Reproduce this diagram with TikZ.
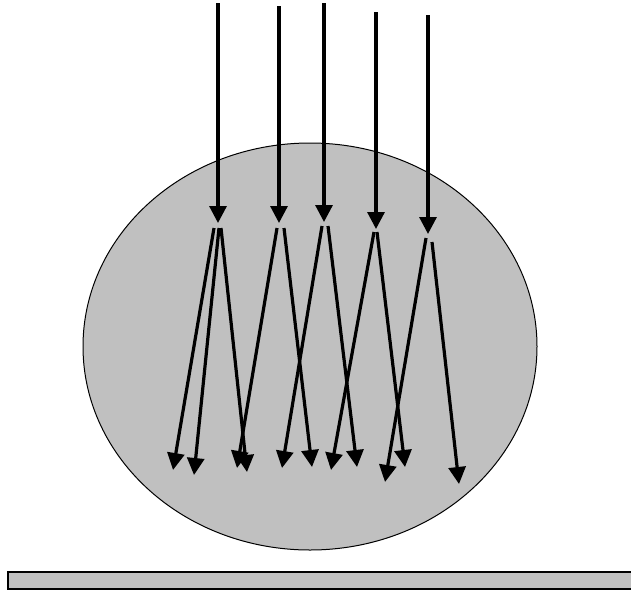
\documentclass[tikz,border=0pt]{standalone}
\usetikzlibrary{arrows.meta}
\definecolor{lens}{HTML}{C0C0C0}
\begin{document}
\begin{tikzpicture}[x=1pt,y=-1pt,
  ray/.style={line width=3.2pt,-{Triangle[length=17pt,width=17pt]}},
  body/.style={fill=lens,draw=black,line width=1pt}]
\useasboundingbox (0,0) rectangle (631,592);
% sphere and plate
\draw[body] (310,346.5) ellipse [x radius=227, y radius=203.5];
\draw[body,line width=1.5pt] (8,572) rectangle (640,589);
% incoming rays
\coordinate (t1) at (218,3);   \coordinate (h1) at (218,223);
\coordinate (t2) at (279,6);   \coordinate (h2) at (279,223);
\coordinate (t3) at (324,3);   \coordinate (h3) at (324,222);
\coordinate (t4) at (376,12);  \coordinate (h4) at (376,229);
\coordinate (t5) at (428,15);  \coordinate (h5) at (428,234);
\foreach \i in {1,...,5} \draw[ray] (t\i) -- (h\i);
% scattered rays: starts
\coordinate (s1a) at (214,228); \coordinate (s1b) at (219,228); \coordinate (s1c) at (221,228);
\coordinate (s2a) at (277,228); \coordinate (s2b) at (284,228);
\coordinate (s3a) at (322,226); \coordinate (s3b) at (328,226);
\coordinate (s4a) at (374,232); \coordinate (s4b) at (377,232);
\coordinate (s5a) at (426,238); \coordinate (s5b) at (432,242);
% ends
\coordinate (e1a) at (173,470); \coordinate (e1b) at (194,475); \coordinate (e1c) at (247,472);
\coordinate (e2a) at (237,468); \coordinate (e2b) at (312,467);
\coordinate (e3a) at (282,468); \coordinate (e3b) at (357,467);
\coordinate (e4a) at (331,470); \coordinate (e4b) at (405,467);
\coordinate (e5a) at (385,482); \coordinate (e5b) at (459,484);
\foreach \s/\e in {s1a/e1a,s1b/e1b,s1c/e1c,s2a/e2a,s2b/e2b,s3a/e3a,s3b/e3b,s4a/e4a,s4b/e4b,s5a/e5a,s5b/e5b}
  \draw[ray] (\s) -- (\e);
\end{tikzpicture}
\end{document}
